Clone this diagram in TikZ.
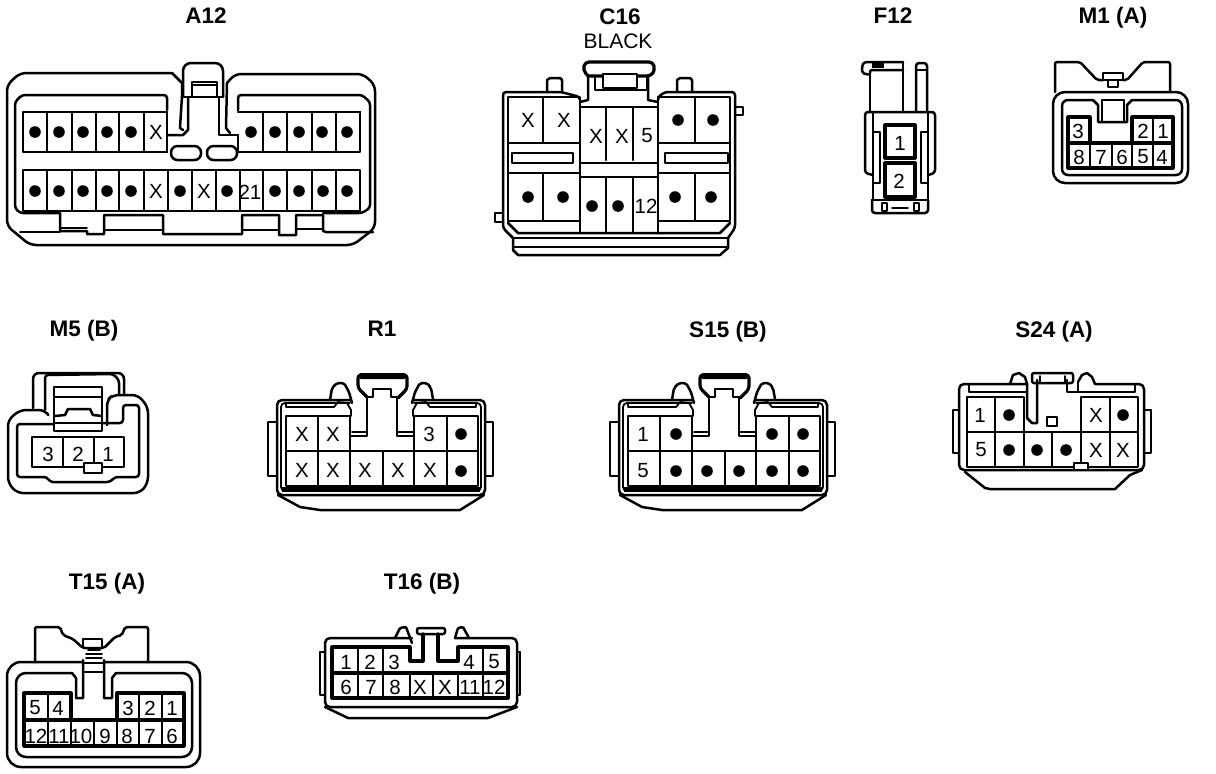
\documentclass[tikz,border=0pt]{standalone}
\usepackage{fontspec}
\setmainfont{Liberation Sans}
\tikzset{
  titlelab/.style={font=\fontsize{22.5}{24}\selectfont\bfseries,inner sep=0pt,anchor=base},
  sublab/.style={font=\fontsize{21}{23}\selectfont,inner sep=0pt,anchor=base},
  pinlab/.style={font=\fontsize{20.5}{22}\selectfont,inner sep=0pt},
  thinl/.style={line width=1.8pt,line join=round,line cap=round},
  medl/.style={line width=2.5pt,line join=round,line cap=round},
  heavyl/.style={line width=3.2pt,line join=round,line cap=round},
}
\newcommand\ptdot[2]{\fill (#1,#2) circle (5.8pt);}
\newcommand\ptlab[3]{\node[pinlab] at (#1,#2) {#3};}
\newcommand\rbody{%
  \draw[medl,rounded corners=5pt] (350,400)--(277,400)--(277,495)--(485,495)--(485,400)--(414,400);
  \draw[thinl,rounded corners=4pt] (350,403)--(281,403)--(281,491)--(481,491)--(481,403)--(414,403);
  \fill (282,487) rectangle (480,492);
  \draw[thinl] (268,422) rectangle (277,476);
  \draw[thinl] (485,422) rectangle (493,476);
  \draw[medl] (278,495)--(300,507)--(320,510)--(460,510)--(484,495);
  \draw[thinl] (286,403)--(286,407)--(334,407)--(338,402)--(347,403)--(351,410)--(351,416);
  \draw[thinl] (476,403)--(476,407)--(430,407)--(426,402)--(417,403)--(413,410)--(413,416);
  \draw[medl] (286,416) rectangle (350,451);
  \draw[medl] (414,416) rectangle (478,451);
  \draw[medl] (286,451) rectangle (478,486);
  \foreach \vx in {318,350,383,414,447} {\draw[medl] (\vx,451)--(\vx,486);}
  \draw[medl] (318,416)--(318,451); \draw[medl] (447,416)--(447,451);
  \draw[medl] (351,436)--(367,436)--(367,397)--(373,397)--(373,389)--(391,389)--(391,397)--(397,397)--(397,436)--(413,436);
  \draw[thinl] (352,432)--(367,432); \draw[thinl] (397,432)--(413,432);
  \draw[heavyl,rounded corners=3pt] (367,397)--(358,388)--(358,375)--(407,375)--(407,389)--(398,398);
  \fill[rounded corners=2pt] (359,373) rectangle (406,379);
  \draw[medl,rounded corners=2pt] (330,400)--(332,388)--(337,383)--(344,383)--(349,392)--(352,403);
  \draw[medl,rounded corners=2pt] (412,403)--(415,392)--(420,383)--(427,383)--(431,388)--(433,399);
}
\begin{document}
\begin{tikzpicture}[x=1pt,y=-1pt]
\useasboundingbox (0,0) rectangle (1216,774);
\fill[white] (0,0) rectangle (1216,774);

% ---------- titles
\node[titlelab] (tA) at (206,23) {A12};
\node[titlelab] (tC) at (620,24) {C16};
\node[sublab]   (tB) at (618,48) {BLACK};
\node[titlelab] (tF) at (893,23) {F12};
\node[titlelab] (tM) at (1113,23) {M1 (A)};
\node[titlelab] (tMf) at (84,336) {M5 (B)};
\node[titlelab] (tR) at (382,336) {R1};
\node[titlelab] (tS) at (728,337) {S15 (B)};
\node[titlelab] (tSt) at (1054,337) {S24 (A)};
\node[titlelab] (tT) at (107,589) {T15 (A)};
\node[titlelab] (tTs) at (422,589) {T16 (B)};

% ---------- A12
\draw[medl,rounded corners=6pt] (172,73)--(20,73)--(7,85)--(7,226)--(30,245)--(353,245)--(375,228)--(375,85)--(363,74)--(235,74)--(227,83);
\draw[medl] (172,73)--(182,83)--(182,96)--(180,128)--(183,130);
\draw[medl,rounded corners=8pt] (183,97)--(183,63)--(223,63)--(223,97);
\draw[medl] (192,82) rectangle (217,97); \draw[thinl] (192,85)--(217,85);
\draw[medl] (183,97)--(223,97);
\draw[medl] (188,97)--(188,130)--(183,135)--(167,135);
\draw[medl] (219,97)--(219,135)--(238,135);
\draw[medl] (227,83)--(226,128)--(230,133);
\draw[medl,rounded corners=3pt] (167,110)--(167,95)--(22,95)--(15,102)--(15,208)--(20,213)--(60,213);
\draw[medl,rounded corners=3pt] (238,110)--(238,95)--(362,95)--(370,102)--(370,208)--(362,213)--(323,213);
\draw[medl] (23,112) rectangle (167,152);
\foreach \vx in {47,72,96,119,144} {\draw[thinl] (\vx,112)--(\vx,152);}
\draw[medl] (167,152)--(167,112);
\draw[medl] (360,112)--(238,112); \draw[medl] (238,152)--(360,152)--(360,112);
\draw[medl] (238,135)--(238,152);
\foreach \vx in {263,287,312,336} {\draw[thinl] (\vx,112)--(\vx,152);}
\draw[medl] (23,170) rectangle (360,211);
\foreach \vx in {47,72,96,119,144,168,192,216,240,263,287,312,336} {\draw[thinl] (\vx,170)--(\vx,211);}
\draw[medl,rounded corners=6.5pt] (171,146) rectangle (201,160);
\draw[medl,rounded corners=6.5pt] (207,146) rectangle (237,160);
\draw[medl] (60,213)--(60,231)--(87,231)--(87,234)--(104,234)--(104,215)--(163,215)--(163,234)--(242,234)--(242,215)--(279,215)--(279,235)--(296,235)--(296,215)--(323,215)--(323,231)--(326,232)--(373,232);
\draw[thinl] (60,228)--(87,228); \draw[thinl] (104,230)--(163,230); \draw[thinl] (242,230)--(279,230); \draw[thinl] (296,229)--(323,229);
\draw[thinl] (20,232)--(60,232);
\foreach \px in {35,59,83,107,131,251,275,299,322,347} {\ptdot{\px}{132}}
\ptlab{156}{132}{X}
\foreach \px in {35,59,83,107,131,180,227,275,299,323,347} {\ptdot{\px}{191}}
\ptlab{156}{191}{X}\ptlab{204}{191}{X}\ptlab{250}{192}{21}

% ---------- C16
\draw[medl,rounded corners=3pt] (580,100)--(580,97)--(561,92)--(503,92)--(503,228)--(513,238);
\draw[medl] (547,92)--(547,80)--(550,78)--(560,78)--(562,80)--(562,92);
\draw[medl,rounded corners=3pt] (658,100)--(658,97)--(665,92)--(735,92)--(735,228)--(728,238);
\draw[medl] (677,92)--(677,80)--(680,78)--(690,78)--(692,80)--(692,92);
\draw[medl] (735,107) rectangle (743,115);
\draw[medl] (495,213) rectangle (503,222);
\draw[thinl] (508,97)--(580,97)--(580,233);
\draw[medl] (543,97)--(543,143);
\draw[thinl] (508,97)--(508,220);
\draw[medl] (580,143)--(508,143);\draw[medl] (580,173)--(508,173);
\draw[medl] (543,173)--(543,220); \draw[medl] (508,221)--(580,221);
\draw[medl] (512,153) rectangle (573,163);
\draw[medl] (580,107)--(658,107);
\foreach \vx in {606,633} {\draw[medl] (\vx,108)--(\vx,160); \draw[medl] (\vx,177)--(\vx,232);}
\draw[medl] (658,97)--(658,233);
\draw[medl] (580,163)--(658,163); \draw[medl] (580,177)--(658,177);
\draw[thinl] (658,97)--(730,97)--(730,220);
\draw[medl] (695,97)--(695,143); \draw[medl] (695,173)--(695,220);
\draw[medl] (658,143)--(730,143); \draw[medl] (658,173)--(730,173); \draw[medl] (658,221)--(730,221);
\draw[medl] (665,153) rectangle (728,163);
\draw[medl] (508,223)--(518,233)--(720,233)--(730,223);
\draw[medl] (513,238)--(728,238);
\draw[medl] (513,238)--(513,250)--(518,255)--(720,255)--(728,248)--(728,238);
\draw[thinl] (513,247)--(728,247);
\draw[heavyl,rounded corners=4pt] (588,76)--(583,70)--(585,62)--(653,62)--(655,70)--(651,76)--(588,76);
\draw[medl] (588,76)--(588,100)--(580,102);
\draw[medl] (595,78)--(595,90)--(647,90)--(647,78);
\draw[medl,fill=white] (603,74) rectangle (637,88);
\draw[medl] (648,76)--(648,100)--(658,102);
\ptlab{528}{120}{X}\ptlab{564}{120}{X}\ptlab{596}{136}{X}\ptlab{622}{136}{X}\ptlab{647}{136}{5}
\ptdot{678}{120}\ptdot{713}{120}\ptdot{528}{197}\ptdot{563}{197}\ptdot{675}{197}\ptdot{711}{197}
\ptdot{592}{206}\ptdot{618}{206}\ptlab{646}{206}{12}

% ---------- F12
\draw[medl,rounded corners=2pt] (903,62)--(864,62)--(862,66)--(862,73)--(870,75)--(870,70)--(903,70);
\fill (872,62) rectangle (884,68);
\draw[medl] (870,74)--(870,112); \draw[medl] (903,62)--(903,112);
\draw[medl,rounded corners=3pt] (916,112)--(916,63)--(927,63)--(927,112);
\draw[thinl] (916,70)--(927,70);
\draw[medl,rounded corners=4pt] (873,112)--(932,112);
\draw[medl,rounded corners=3pt] (873,175)--(865,173)--(865,112)--(935,112)--(935,173)--(928,175);
\draw[medl] (873,112)--(873,200); \draw[medl] (928,112)--(928,200);
\draw[medl] (873,132)--(880,132)--(880,183)--(873,183);
\draw[medl] (928,132)--(921,132)--(921,183)--(928,183);
\draw[heavyl] (885,125) rectangle (915,158);
\draw[heavyl] (885,163) rectangle (915,197);
\draw[medl] (872,200)--(928,200);
\draw[medl,rounded corners=3pt] (872,200)--(872,213)--(928,213)--(928,200);
\draw[thinl] (882,203) rectangle (887,211); \draw[thinl] (892,208)--(908,208); \draw[thinl] (914,203) rectangle (919,211);
\ptlab{900}{143}{1}\ptlab{899}{181}{2}

% ---------- M1 (A)
\draw[medl,rounded corners=12pt] (1053,92) rectangle (1188,183);
\draw[medl,rounded corners=2pt] (1055,92)--(1055,62)--(1080,62)--(1097,80)--(1103,80);
\draw[medl,rounded corners=2pt] (1123,80)--(1127,80)--(1143,62)--(1170,62)--(1170,92);
\draw[medl] (1103,73) rectangle (1123,80);
\draw[medl] (1108,80)--(1108,87)--(1118,87)--(1118,80);
\draw[medl,rounded corners=6pt] (1093,100)--(1062,100)--(1062,175)--(1182,175)--(1182,100)--(1132,100);
\draw[medl] (1093,100)--(1098,105)--(1098,122)--(1127,122)--(1127,105)--(1132,100);
\draw[medl] (1102,100)--(1102,122); \draw[medl] (1124,100)--(1124,122); \draw[thinl] (1102,100)--(1124,100);
\draw[heavyl] (1068,143)--(1068,117)--(1090,117)--(1090,143);
\draw[heavyl] (1132,143)--(1132,117)--(1173,117)--(1173,143);
\draw[heavyl] (1068,143) rectangle (1173,168);
\foreach \vx in {1090,1112,1132,1153} {\draw[medl] (\vx,143)--(\vx,168);}
\draw[medl] (1153,117)--(1153,143);
\ptlab{1078}{131}{3}\ptlab{1143}{131}{2}\ptlab{1163}{131}{1}
\ptlab{1079}{157}{8}\ptlab{1101}{157}{7}\ptlab{1122}{157}{6}\ptlab{1143}{157}{5}\ptlab{1162}{157}{4}

% ---------- M5 (B)
\draw[medl,rounded corners=6pt] (47,413)--(45,410)--(20,410)--(8,420)--(8,483)--(17,493)--(140,493)--(148,483)--(148,407)--(138,395)--(113,395)--(107,400)--(107,425);
\draw[medl,rounded corners=6pt] (33,408)--(33,373)--(124,373)--(124,395);
\draw[medl,rounded corners=3pt] (45,410)--(45,375)--(113,374)--(119,380)--(119,395);
\draw[medl,rounded corners=3pt] (54,424)--(17,424)--(17,477)--(47,477)--(50,482)--(110,482)--(115,477)--(139,477)--(139,405)--(123,405)--(123,423)--(102,423);
\draw[medl] (54,387) rectangle (102,431);
\draw[medl] (54,397)--(102,397); \draw[medl] (54,423)--(102,423);
\draw[medl] (55,416)--(65,415)--(68,409)--(90,409)--(93,415)--(102,416);
\draw[medl] (32,437) rectangle (124,467);
\draw[medl] (63,437)--(63,467); \draw[medl] (94,437)--(94,463);
\draw[medl,fill=white] (84,463) rectangle (102,473);
\ptlab{48}{454}{3}\ptlab{78}{454}{2}\ptlab{108}{454}{1}

% ---------- R1
\rbody
\ptlab{302}{434}{X}\ptlab{333}{434}{X}\ptlab{429}{434}{3}\ptdot{461}{434}
\ptlab{302}{470}{X}\ptlab{333}{470}{X}\ptlab{365}{470}{X}\ptlab{398}{470}{X}\ptlab{430}{470}{X}\ptdot{461}{471}

% ---------- S15 (B)
\begin{scope}[shift={(342,0)}]
\rbody
\end{scope}
\ptlab{643}{434}{1}\ptdot{676}{434}\ptdot{772}{434}\ptdot{803}{434}
\ptlab{643}{471}{5}\ptdot{676}{471}\ptdot{707}{471}\ptdot{739}{471}\ptdot{772}{471}\ptdot{803}{471}

% ---------- S24 (A)
\draw[medl,rounded corners=5pt] (1027,384)--(959,384)--(959,470)--(1144,470)--(1144,384)--(1095,384);
\draw[thinl] (953,410)--(953,453)--(958,453); \draw[thinl] (953,410)--(958,410);
\draw[thinl] (1151,410)--(1151,453)--(1145,453); \draw[thinl] (1151,410)--(1145,410);
\draw[medl] (965,472)--(985,488)--(990,489)--(1115,489)--(1130,475)--(1142,470);
\draw[thinl] (969,384)--(969,392)--(1027,392);
\draw[thinl] (1078,392)--(1135,392)--(1135,384);
\draw[medl] (967,432)--(967,397)--(1024,397)--(1024,432);
\draw[medl] (1081,432)--(1081,397)--(1138,397)--(1138,432);
\draw[medl] (967,432) rectangle (1138,467);
\foreach \vx in {995,1024,1052,1081,1110} {\draw[medl] (\vx,432)--(\vx,467);}
\draw[medl] (995,397)--(995,432); \draw[medl] (1110,397)--(1110,432);
\draw[medl] (1047,417) rectangle (1057,426);
\draw[medl,fill=white] (1074,463) rectangle (1088,470);
\draw[medl] (1027,384)--(1027,418)--(1032,423)--(1037,423)--(1037,380);
\draw[medl] (1067,380)--(1067,392)--(1078,392)--(1078,382);
\draw[medl,rounded corners=2pt] (1032,373) rectangle (1073,383);
\draw[thinl] (1040,376)--(1040,383); \draw[thinl] (1065,376)--(1065,383);
\draw[medl] (1010,384)--(1013,375)--(1019,373)--(1025,377)--(1027,384);
\draw[medl] (1078,382)--(1082,375)--(1087,373)--(1092,377)--(1095,384);
\ptlab{980}{415}{1}\ptdot{1009}{415}\ptlab{1096}{415}{X}\ptdot{1123}{415}
\ptlab{981}{450}{5}\ptdot{1009}{450}\ptdot{1037}{450}\ptdot{1066}{450}\ptlab{1096}{450}{X}\ptlab{1123}{450}{X}

% ---------- T15 (A)
\draw[medl,rounded corners=14pt] (83,662)--(7,662)--(7,767)--(200,767)--(200,662)--(104,662);
\draw[medl,rounded corners=2pt] (35,662)--(35,627)--(60,627)--(63,635)--(73,639)--(83,648)--(104,648)--(115,637)--(122,635)--(125,627)--(148,627)--(148,662);
\draw[medl] (83,639) rectangle (102,648);
\draw[thinl] (88,650)--(100,650); \draw[thinl] (86,654)--(102,654); \draw[thinl] (86,658)--(102,658);
\draw[medl] (83,663)--(104,663); \draw[medl] (83,672)--(104,672);
\draw[medl,rounded corners=10pt] (72,673)--(16,673)--(16,757)--(192,757)--(192,673)--(116,673);
\draw[medl] (72,673)--(76,678)--(76,698)--(83,698)--(83,660);
\draw[medl] (104,660)--(104,698)--(112,698)--(112,678)--(116,673);
\draw[heavyl] (24,720)--(24,693)--(71,693)--(71,720);
\draw[heavyl] (117,720)--(117,693)--(184,693)--(184,720);
\draw[heavyl] (24,720) rectangle (184,746);
\foreach \vx in {48,71,94,117,139,162} {\draw[medl] (\vx,720)--(\vx,746);}
\foreach \vx in {48,139,162} {\draw[medl] (\vx,693)--(\vx,720);}
\ptlab{35}{708}{5}\ptlab{58}{708}{4}\ptlab{128}{708}{3}\ptlab{150}{708}{2}\ptlab{172}{708}{1}
\ptlab{36}{736}{12}\ptlab{59}{736}{11}\ptlab{81}{736}{10}\ptlab{105}{736}{9}\ptlab{127}{736}{8}\ptlab{150}{736}{7}\ptlab{172}{736}{6}

% ---------- T16 (B)
\draw[medl,rounded corners=5pt] (412,638)--(325,638)--(325,707)--(517,707)--(517,638)--(455,638);
\draw[thinl] (320,652)--(320,695)--(325,695); \draw[thinl] (320,652)--(325,652);
\draw[thinl] (520,652)--(520,695)--(517,695); \draw[thinl] (520,652)--(517,652);
\draw[medl] (325,707)--(348,718)--(488,718)--(517,707);
\draw[heavyl] (332,673)--(332,647)--(410,647)--(410,661)--(423,661)--(423,634);
\draw[heavyl] (438,634)--(438,661)--(458,661)--(458,647)--(508,647)--(508,673);
\draw[heavyl] (332,673) rectangle (508,698);
\foreach \vx in {358,383,410,433,458,483} {\draw[medl] (\vx,673)--(\vx,698);}
\foreach \vx in {358,383,483} {\draw[medl] (\vx,647)--(\vx,673);}
\draw[medl,rounded corners=2pt] (417,628) rectangle (445,634);
\draw[medl,rounded corners=1pt] (395,638)--(400,628)--(406,627)--(412,643);
\draw[medl,rounded corners=1pt] (455,638)--(458,628)--(463,627)--(469,638);
\ptlab{346}{662}{1}\ptlab{370}{662}{2}\ptlab{394}{662}{3}\ptlab{469}{662}{4}\ptlab{494}{662}{5}
\ptlab{346}{687}{6}\ptlab{371}{687}{7}\ptlab{395}{687}{8}\ptlab{420}{687}{X}\ptlab{445}{687}{X}\ptlab{470}{687}{11}\ptlab{494}{687}{12}
\end{tikzpicture}
\end{document}
